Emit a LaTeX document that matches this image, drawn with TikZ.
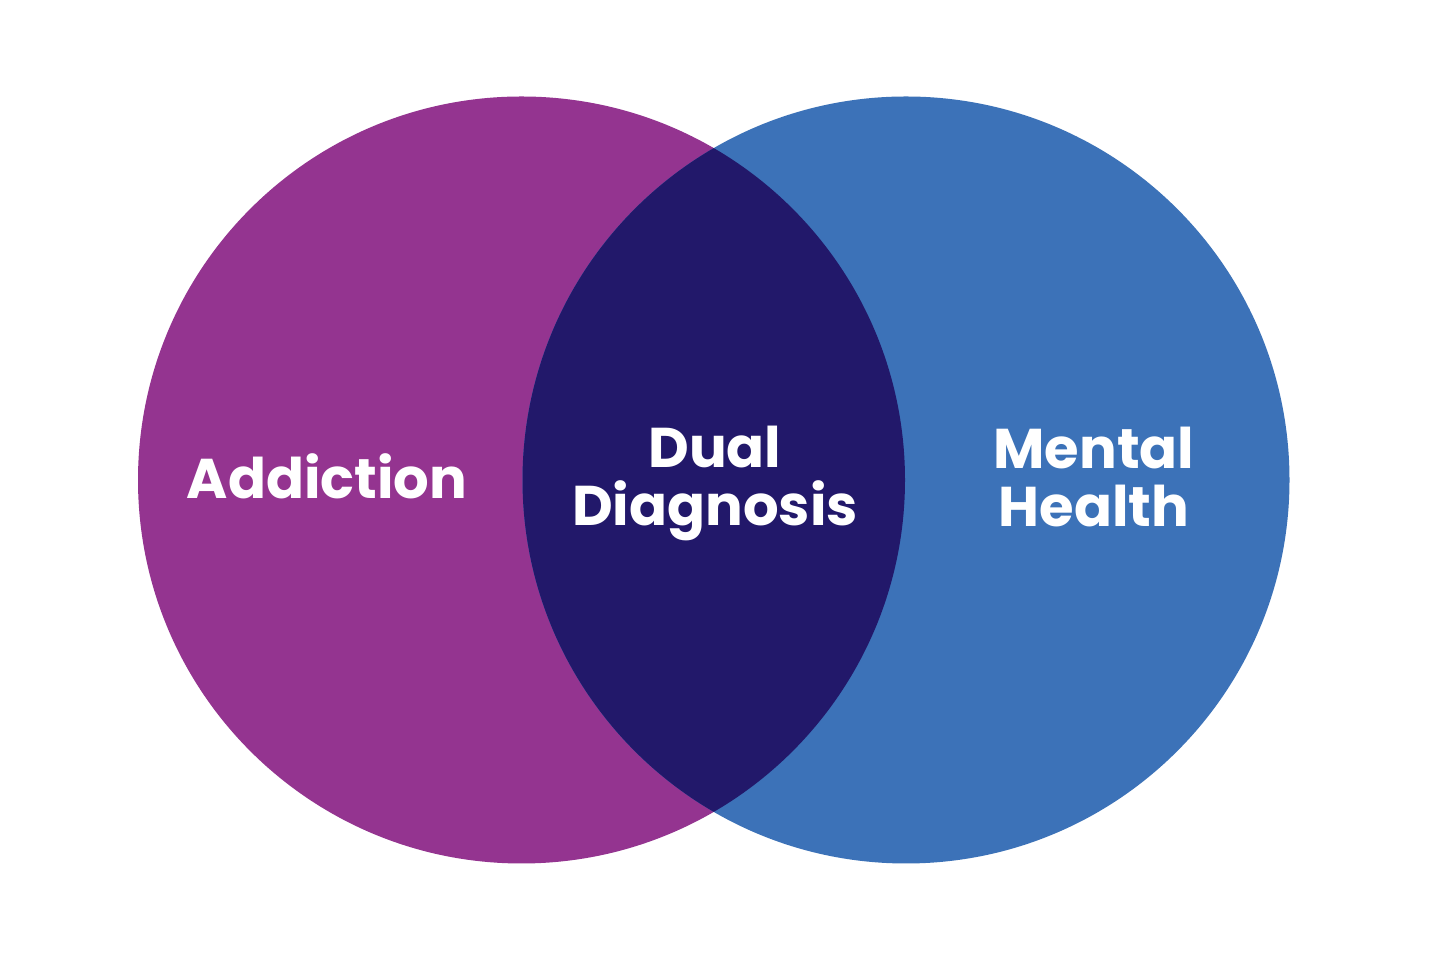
\documentclass[tikz,border=0pt]{standalone}
\usepackage{fontspec}
\setmainfont{Poppins}
\definecolor{addpurple}{HTML}{943490}
\definecolor{mhblue}{HTML}{3C72B8}
\definecolor{dualdark}{HTML}{22186A}
\begin{document}
\begin{tikzpicture}[x=1pt,y=1pt,
  lbl/.style={text=white,font=\fontsize{56}{58}\selectfont\bfseries,align=center,inner sep=0pt}]
\useasboundingbox (0,0) rectangle (1440,960);
\fill[white] (0,0) rectangle (1440,960);
\coordinate (lc) at (521.5,480);
\coordinate (rc) at (906,480);
\fill[addpurple] (lc) circle (383.5);
\fill[mhblue] (rc) circle (383.5);
\begin{scope}
\clip (lc) circle (383.5);
\fill[dualdark] (rc) circle (383.5);
\end{scope}
\node[lbl] (add) at (327,484) {Addiction};
\node[lbl] (dual) at (715,477) {Dual\\Diagnosis};
\node[lbl] (mh) at (1094,483) {Mental\\Health};
\end{tikzpicture}
\end{document}
